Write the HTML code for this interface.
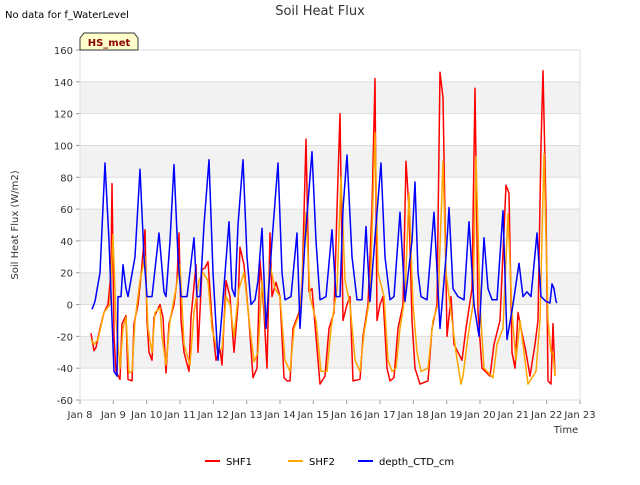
<!DOCTYPE html>
<html><head><meta charset="utf-8"><style>
body{margin:0;background:#fff;font-family:"Liberation Sans",sans-serif;}
svg text{font-family:"DejaVu Sans","Liberation Sans",sans-serif;}
</style></head><body>
<svg id="c" width="640" height="480" xmlns="http://www.w3.org/2000/svg">
<text x="5" y="18" font-size="10">No data for f_WaterLevel</text>
<text x="320" y="15" font-size="13" text-anchor="middle" fill="#333">Soil Heat Flux</text>
<g id="plot"></g>
<path d="M80,50 L80,38 L84,33 L134,33 L138,38 L138,50 Z" fill="#ffffcc" stroke="#333"/>
<text x="109" y="46" font-size="10" font-weight="bold" fill="#8b0000" text-anchor="middle">HS_met</text>
<text transform="translate(18,225) rotate(-90)" font-size="10" text-anchor="middle" fill="#333">Soil Heat Flux (W/m2)</text>
<text x="566" y="433" font-size="10" text-anchor="middle" fill="#333">Time</text>
<g>
<line x1="205" y1="461" x2="220" y2="461" stroke="#ff0000" stroke-width="2"/>
<text x="226" y="465" font-size="10">SHF1</text>
<line x1="288" y1="461" x2="303" y2="461" stroke="#ffa500" stroke-width="2"/>
<text x="309" y="465" font-size="10">SHF2</text>
<line x1="358" y1="461" x2="373" y2="461" stroke="#0000ff" stroke-width="2"/>
<text x="379" y="465" font-size="10">depth_CTD_cm</text>
</g>
</svg>
<script>
const yTicks=[-60,-40,-20,0,20,40,60,80,100,120,140,160];
const xTickLabels=["Jan 8","Jan 9","Jan 10","Jan 11","Jan 12","Jan 13","Jan 14","Jan 15","Jan 16","Jan 17","Jan 18","Jan 19","Jan 20","Jan 21","Jan 22","Jan 23"];
const bands=[[120,140],[80,100],[40,60],[0,20],[-40,-20]];
const blueT=[0.36,0.45,0.6,0.75,0.87,1.02,1.11,1.14,1.23,1.29,1.38,1.44,1.65,1.8,1.92,2.01,2.16,2.37,2.52,2.58,2.7,2.82,2.94,3.03,3.21,3.42,3.51,3.6,3.72,3.87,3.99,4.14,4.26,4.47,4.56,4.65,4.74,4.89,5.01,5.13,5.25,5.34,5.46,5.58,5.76,5.94,6.06,6.15,6.33,6.51,6.6,6.75,6.96,7.08,7.2,7.38,7.56,7.68,7.8,7.89,8.01,8.16,8.31,8.46,8.58,8.7,8.88,9.03,9.15,9.3,9.42,9.6,9.75,9.96,10.05,10.14,10.23,10.41,10.62,10.8,10.98,11.07,11.19,11.34,11.52,11.67,11.82,11.97,12.12,12.24,12.36,12.51,12.69,12.81,12.99,13.17,13.29,13.41,13.53,13.71,13.83,13.98,14.1,14.16,14.22,14.28,14.31];
const blueV=[-3,2,20,89,40,-42,-45,5,5,25,10,5,30,85,30,5,5,45,8,5,40,88,30,5,5,42,5,5,50,91,20,-35,-5,52,10,5,50,91,30,0,3,15,48,-15,40,89,20,3,5,45,-15,40,96,40,3,5,47,5,5,60,94,30,3,3,49,2,50,89,30,3,5,58,2,40,77,20,5,3,58,-15,30,61,10,5,3,52,0,-20,42,10,3,3,59,-22,0,26,5,8,5,45,5,2,1,13,10,2,1];
const redT=[0.33,0.42,0.48,0.6,0.72,0.84,0.93,0.96,1.02,1.08,1.2,1.26,1.38,1.44,1.56,1.62,1.74,1.83,1.95,2.01,2.07,2.16,2.22,2.4,2.49,2.58,2.67,2.82,2.91,2.97,3.03,3.12,3.27,3.33,3.48,3.54,3.66,3.75,3.84,3.96,4.08,4.2,4.26,4.38,4.5,4.62,4.74,4.8,4.92,5.07,5.19,5.31,5.4,5.52,5.61,5.7,5.76,5.88,6.0,6.12,6.21,6.3,6.39,6.57,6.66,6.78,6.87,6.96,7.08,7.2,7.35,7.47,7.62,7.71,7.8,7.89,8.01,8.1,8.19,8.4,8.49,8.64,8.76,8.85,8.91,9.0,9.09,9.21,9.3,9.42,9.54,9.69,9.78,9.87,9.96,10.05,10.2,10.44,10.56,10.71,10.8,10.89,11.01,11.13,11.22,11.46,11.58,11.76,11.85,11.94,12.06,12.3,12.42,12.6,12.78,12.87,12.96,13.05,13.14,13.23,13.38,13.5,13.65,13.74,13.83,13.89,13.98,14.04,14.13,14.19,14.25];
const redV=[-18,-29,-27,-15,-5,0,20,76,-20,-42,-47,-12,-7,-47,-48,-12,0,18,47,-10,-30,-35,-8,0,-8,-43,-12,0,15,45,-10,-30,-42,-8,25,-30,22,23,27,-10,-35,-28,-38,15,5,-30,0,36,25,-10,-46,-40,28,-5,-40,45,5,14,5,-46,-48,-48,-15,-5,10,104,8,10,-20,-50,-45,-15,-5,60,120,-10,0,5,-48,-47,-20,0,60,142,-10,0,5,-40,-48,-46,-15,0,90,60,-10,-40,-50,-48,-15,0,146,130,-20,5,-25,-35,-15,10,136,-5,-40,-45,-25,-10,75,70,-30,-40,-5,-15,-30,-45,-25,-10,100,147,60,-48,-50,-12,-45];
const orT=[0.33,0.42,0.54,0.72,0.9,0.99,1.08,1.2,1.29,1.38,1.47,1.56,1.65,1.8,1.95,2.04,2.16,2.25,2.4,2.46,2.58,2.7,2.88,3.0,3.12,3.3,3.42,3.57,3.69,3.84,3.96,4.11,4.26,4.38,4.5,4.62,4.77,4.92,5.1,5.22,5.34,5.46,5.58,5.7,5.85,6.0,6.15,6.3,6.42,6.6,6.78,6.9,7.08,7.23,7.41,7.53,7.71,7.83,7.95,8.1,8.25,8.4,8.52,8.7,8.85,8.94,9.12,9.24,9.36,9.48,9.6,9.75,9.87,9.99,10.11,10.23,10.44,10.59,10.74,10.89,10.98,11.13,11.28,11.43,11.49,11.64,11.79,11.88,12.0,12.12,12.39,12.51,12.69,12.84,12.96,13.08,13.2,13.32,13.44,13.68,13.8,13.92,14.04,14.13,14.19,14.25];
const orV=[-22,-25,-22,-5,0,44,-10,-40,-15,-8,-43,-42,-10,15,30,-15,-30,-5,-2,-20,-38,-10,10,25,-25,-38,-5,15,20,15,-15,-28,-28,5,0,-20,10,20,-15,-36,-30,15,-15,25,10,5,-35,-42,-15,-5,58,5,-10,-42,-42,-15,10,80,15,0,-35,-42,-18,5,108,20,5,-35,-42,-40,-15,5,70,0,-30,-42,-40,-10,0,90,20,-5,-30,-50,-45,-20,0,93,0,-40,-46,-25,-15,57,-5,-35,-10,-30,-50,-42,-10,95,-10,-30,-30,-45];

const NS='http://www.w3.org/2000/svg';
const L=80,R=580,T=50,B=400;
const xs=t=>L+(R-L)*t/15;
const ys=v=>B-(B-T)*(v+60)/220;
const g=document.getElementById('plot');
const svg=document.getElementById('c');
function mk(tag,at,parent){const e=document.createElementNS(NS,tag);for(const k in at)e.setAttribute(k,at[k]);(parent||g).appendChild(e);return e;}
for(const b of bands){const r=mk('rect',{x:L,y:ys(b[1]),width:R-L,height:ys(b[0])-ys(b[1]),fill:'#f2f2f2'});

}
for(const v of yTicks){const ln=mk('line',{x1:L,x2:R,y1:ys(v),y2:ys(v),stroke:'#dddddd'});


const tk=mk('line',{x1:L-4,x2:L,y1:ys(v),y2:ys(v),stroke:'#999'});


const tx=mk('text',{x:L-7,y:ys(v)+4,'font-size':10,'text-anchor':'end',fill:'#333'});tx.textContent=v;

}
xTickLabels.forEach((s,i)=>{const tk=mk('line',{x1:xs(i),x2:xs(i),y1:B,y2:B+4,stroke:'#999'});


const tx=mk('text',{x:xs(i),y:B+18,'font-size':10,'text-anchor':'middle',fill:'#333'});tx.textContent=s;

});
const fr=mk('rect',{x:L,y:T,width:R-L,height:B-T,fill:'none',stroke:'#dddddd'});


function series(T_,V,col,name){const d=T_.map((t,i)=>(i?'L':'M')+xs(t).toFixed(1)+','+ys(V[i]).toFixed(1)).join(' ');
const p=mk('path',{d:d,fill:'none',stroke:col,'stroke-width':1.5,'stroke-linejoin':'round'});

}
series(redT,redV,'#ff0000','series-shf1');
series(orT,orV,'#ffa500','series-shf2');
series(blueT,blueV,'#0000ff','series-depth-ctd-cm');
</script>
</body></html>
